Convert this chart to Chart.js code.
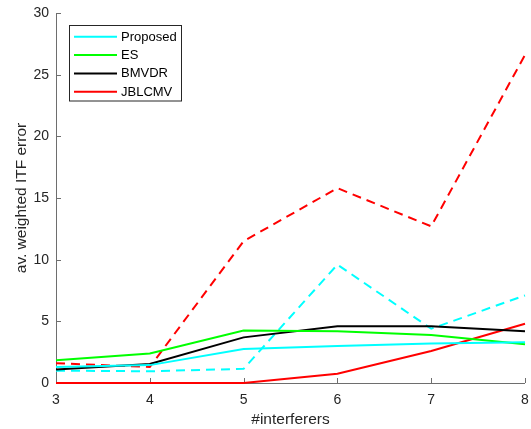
<!DOCTYPE html>
<html><head><meta charset="utf-8">
<script src="https://cdn.jsdelivr.net/npm/chart.js@4"></script>
<style>html,body{margin:0;padding:0;background:#fff}#wrap{width:531px;height:429px;position:relative}</style>
</head><body><div id="wrap"><canvas id="c" width="531" height="429"></canvas></div>
<script>
const xValues = [3, 4, 5, 6, 7, 8];
const seriesNames = ['Proposed', 'ES', 'BMVDR', 'JBLCMV'];
const proposedSolid = [1.3, 1.45, 2.75, 3.0, 3.2, 3.3];
const esSolid = [1.85, 2.4, 4.25, 4.2, 3.9, 3.15];
const bmvdrSolid = [1.1, 1.55, 3.7, 4.6, 4.6, 4.2];
const jblcmvSolid = [0, 0, 0, 0.75, 2.6, 4.8];
const proposedDashed = [1.0, 0.95, 1.15, 9.6, 4.4, 7.1];
const jblcmvDashed = [1.6, 1.3, 11.5, 15.8, 12.7, 26.6];
const xTicks = [3, 4, 5, 6, 7, 8];
const yTicks = [0, 5, 10, 15, 20, 25, 30];
const xLabel = '#interferers';
const yLabel = 'av. weighted ITF error';

const colors = ['#00FFFF', '#00FF00', '#000000', '#FF0000'];
const FONT = "'Liberation Sans', Arial, Helvetica, sans-serif";
const pts = arr => arr.map((v, i) => ({x: xValues[i], y: v}));

function ds(label, data, color, dashed) {
  return {label, data: pts(data), borderColor: color, backgroundColor: color,
    borderWidth: 2, borderDash: dashed ? [9, 6] : [], pointRadius: 0, tension: 0,
    fill: false, clip: false, inLegend: !dashed};
}
const datasets = [
  ds(seriesNames[0], proposedSolid, colors[0], false),
  ds(seriesNames[1], esSolid, colors[1], false),
  ds(seriesNames[2], bmvdrSolid, colors[2], false),
  ds(seriesNames[3], jblcmvSolid, colors[3], false),
  ds(seriesNames[0] + ' (dashed)', proposedDashed, colors[0], true),
  ds(seriesNames[3] + ' (dashed)', jblcmvDashed, colors[3], true)
];

const axesPlugin = {
  id: 'axesPlugin',
  beforeDatasetsDraw(chart) {
    const {ctx, chartArea: a, scales: {x, y}} = chart;
    ctx.save();
    ctx.strokeStyle = '#6e6e6e';
    ctx.lineWidth = 1;
    ctx.beginPath();
    ctx.moveTo(a.left + 0.5, a.top);
    ctx.lineTo(a.left + 0.5, a.bottom + 0.5);
    ctx.lineTo(a.right, a.bottom + 0.5);
    xTicks.forEach(t => { const px = Math.round(x.getPixelForValue(t)) + 0.5; ctx.moveTo(px, a.bottom); ctx.lineTo(px, a.bottom - 5); });
    yTicks.forEach(t => { const py = Math.round(y.getPixelForValue(t)) + 0.5; ctx.moveTo(a.left, py); ctx.lineTo(a.left + 5, py); });
    ctx.stroke();
    ctx.restore();
  },
  afterDraw(chart) {
    const ctx = chart.ctx;
    const items = chart.data.datasets.filter(d => d.inLegend);
    const bx = 69.5, by = 25.5, bw = 112, bh = 75.5;
    ctx.save();
    ctx.fillStyle = '#fff';
    ctx.fillRect(bx, by, bw, bh);
    ctx.strokeStyle = '#262626';
    ctx.lineWidth = 1;
    ctx.strokeRect(bx, by, bw, bh);
    ctx.font = '13px ' + FONT;
    ctx.textBaseline = 'middle';
    ctx.textAlign = 'left';
    items.forEach((d, i) => {
      const cy = 36.7 + i * 18.35;
      ctx.strokeStyle = d.borderColor;
      ctx.lineWidth = 2;
      ctx.setLineDash([]);
      ctx.beginPath();
      ctx.moveTo(74, cy); ctx.lineTo(117, cy);
      ctx.stroke();
      ctx.fillStyle = '#000';
      ctx.fillText(d.label, 121, cy + 0.5);
    });
    ctx.restore();
  }
};

new Chart(document.getElementById('c'), {
  type: 'line',
  data: {datasets},
  plugins: [axesPlugin],
  options: {
    responsive: false, animation: false, devicePixelRatio: 1,
    layout: {padding: {top: 13, right: 6, left: 0, bottom: 0}},
    plugins: {legend: {display: false}, tooltip: {enabled: false}},
    scales: {
      x: {
        type: 'linear', min: 3, max: 8,
        afterBuildTicks: s => { s.ticks = xTicks.map(v => ({value: v})); },
        afterFit: s => { s.height = 46; s.paddingLeft = 0; s.paddingRight = 0; },
        grid: {display: false, drawTicks: false}, border: {display: false},
        ticks: {color: '#262626', font: {family: FONT, size: 14}, padding: 9, maxRotation: 0},
        title: {display: true, text: xLabel, color: '#262626', font: {family: FONT, size: 15.5}, padding: {top: 0, bottom: 0}}
      },
      y: {
        type: 'linear', min: 0, max: 30,
        afterBuildTicks: s => { s.ticks = yTicks.map(v => ({value: v})); },
        afterFit: s => { s.width = 56; s.paddingTop = 0; s.paddingBottom = 0; },
        grid: {display: false, drawTicks: false}, border: {display: false},
        ticks: {color: '#262626', font: {family: FONT, size: 14}, padding: 7},
        title: {display: true, text: yLabel, color: '#262626', font: {family: FONT, size: 15.5}, padding: {top: 12, bottom: 0}}
      }
    }
  }
});
</script>
</body></html>
